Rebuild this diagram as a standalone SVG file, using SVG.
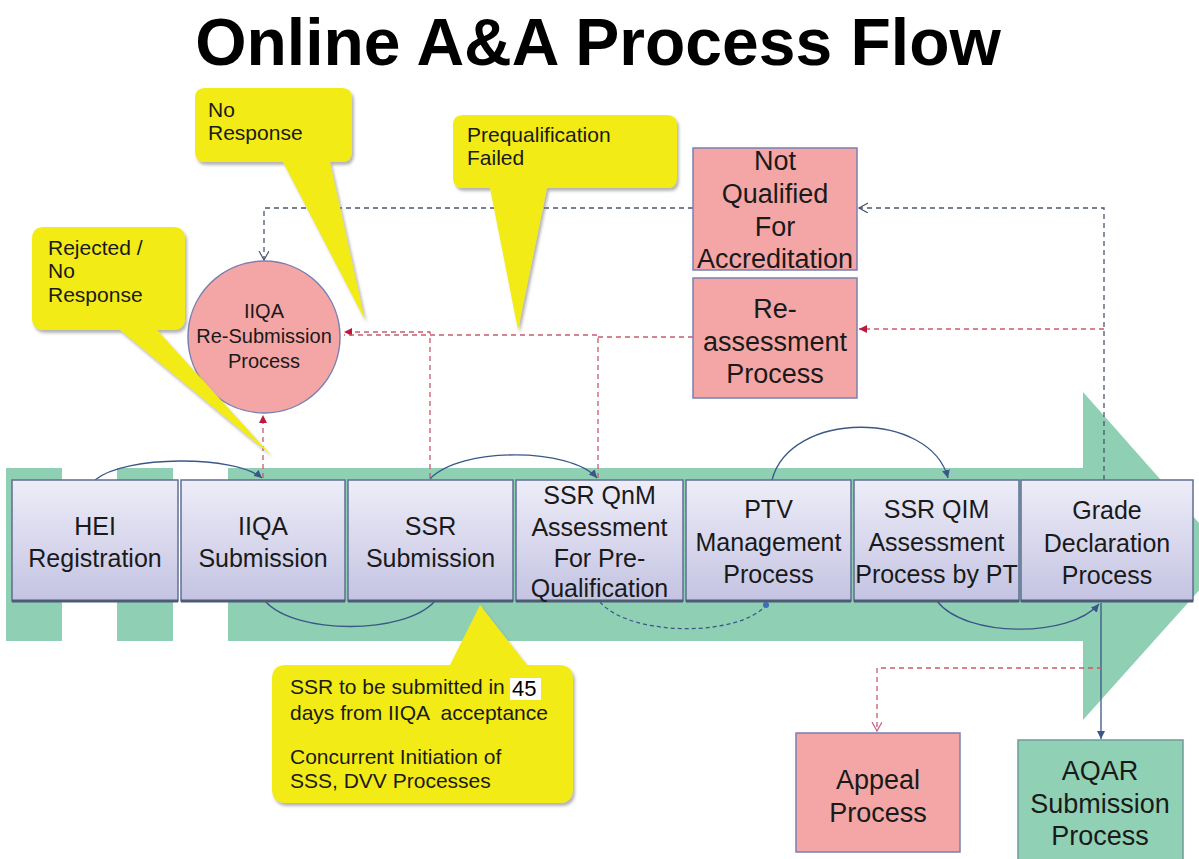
<svg xmlns="http://www.w3.org/2000/svg" width="1199" height="859" viewBox="0 0 1199 859">
<defs>
<linearGradient id="gBox" x1="0" y1="0" x2="0" y2="1"><stop offset="0" stop-color="#eeedf8"/><stop offset="1" stop-color="#c4c3e2"/></linearGradient>
<marker id="aBlue" markerWidth="10" markerHeight="10" refX="8" refY="4" orient="auto" markerUnits="userSpaceOnUse"><path d="M0,0 L8,4 L0,8 Z" fill="#3b5788"/></marker>
<marker id="aRed" markerWidth="10" markerHeight="10" refX="8" refY="4" orient="auto" markerUnits="userSpaceOnUse"><path d="M0,0 L8,4 L0,8 Z" fill="#c0183c"/></marker>
<marker id="aOpen" markerWidth="12" markerHeight="12" refX="9" refY="5" orient="auto" markerUnits="userSpaceOnUse"><path d="M0,0 L9,5 L0,10" fill="none" stroke="#4a5670" stroke-width="1.2"/></marker>
<marker id="aOpenPink" markerWidth="12" markerHeight="12" refX="9" refY="5" orient="auto" markerUnits="userSpaceOnUse"><path d="M0,0 L9,5 L0,10" fill="none" stroke="#c06080" stroke-width="1.2"/></marker>
<marker id="dot" markerWidth="8" markerHeight="8" refX="4" refY="4" markerUnits="userSpaceOnUse"><circle cx="4" cy="4" r="3" fill="#3b70b8"/></marker>
<filter id="sh" x="-10%" y="-10%" width="130%" height="130%"><feDropShadow dx="2" dy="3" stdDeviation="1.5" flood-color="#777" flood-opacity="0.55"/></filter>
</defs>
<style>
.t{font-family:"Liberation Sans",Arial,sans-serif;fill:#1a1a1a;text-anchor:middle;font-size:25px}
.c{font-family:"Liberation Sans",Arial,sans-serif;fill:#1a1a1a;font-size:21px}
.pb{fill:url(#gBox);stroke:#5f6f92;stroke-width:1.5}
.pbs{stroke:#4d5b74;stroke-width:3}
.pk{fill:#f4a6a6;stroke:#7b7fb0;stroke-width:1.5}
.gr{fill:#90d1b6;stroke:#6f9a9a;stroke-width:1.5}
.band{fill:#8fcfb4}
.call{fill:#f3eb17;filter:url(#sh)}
.arc{fill:none;stroke:#3b5788;stroke-width:1.3}
.dg{fill:none;stroke:#4a5670;stroke-width:1.3;stroke-dasharray:5 4}
.dr{fill:none;stroke:#c85a6e;stroke-width:1.3;stroke-dasharray:5 4}
</style>
<rect width="1199" height="859" fill="#ffffff"/>
<text x="598" y="65" font-family="'Liberation Sans',Arial,sans-serif" font-weight="bold" font-size="66" text-anchor="middle" fill="#000">Online A&amp;A Process Flow</text>

<g id="band">
<rect class="band" x="6" y="468" width="56" height="173"/>
<rect class="band" x="117" y="468" width="56" height="173"/>
<path class="band" d="M228,468 H1083 V392 L1229,557 L1083,720 V641 H228 Z"/>
</g>

<g id="connectors">
<path class="arc" d="M95,480 C125,455 235,455 262,478" marker-end="url(#aBlue)"/>
<path class="arc" d="M430,479 C460,447 570,447 597,478" marker-end="url(#aBlue)"/>
<path class="arc" d="M772,480 C790,410 930,410 948,478" marker-end="url(#aBlue)"/>
<path class="arc" d="M265,601 C295,635 405,635 435,601"/>
<path class="arc" d="M600,602 C630,637 740,637 766,605" stroke-dasharray="4 3" marker-end="url(#dot)"/>
<path class="arc" d="M937,601 C965,638 1070,638 1099,604" marker-end="url(#aBlue)"/>
<path class="arc" d="M1101,603 V739" marker-end="url(#aBlue)"/>
<path class="dg" d="M1104,480 V208 H859" marker-end="url(#aOpen)"/>
<path class="dr" d="M1104,329 H859" marker-end="url(#aRed)"/>
<path class="dg" d="M693,208 H264 V260" marker-end="url(#aOpen)"/>
<path class="dr" d="M263,478 V415" marker-end="url(#aRed)"/>
<path class="dr" d="M430,478 V332 H344" marker-end="url(#aRed)"/>
<path class="dr" d="M598,478 V335 H344"/>
<path class="dr" d="M693,337 H598" stroke="#a07080"/>
<path class="dr" d="M1102,668 H877 V731" marker-end="url(#aOpenPink)"/>
</g>

<g id="n-hei"><rect class="pb" x="12" y="480" width="166" height="121"/><line class="pbs" x1="12" y1="601" x2="178" y2="601"/><text class="t"><tspan x="95" y="535">HEI</tspan><tspan x="95" y="567">Registration</tspan></text></g>
<g id="n-iiqa"><rect class="pb" x="181" y="480" width="164" height="121"/><line class="pbs" x1="181" y1="601" x2="345" y2="601"/><text class="t"><tspan x="263" y="535">IIQA</tspan><tspan x="263" y="567">Submission</tspan></text></g>
<g id="n-ssr"><rect class="pb" x="348" y="480" width="165" height="121"/><line class="pbs" x1="348" y1="601" x2="513" y2="601"/><text class="t"><tspan x="430.5" y="535">SSR</tspan><tspan x="430.5" y="567">Submission</tspan></text></g>
<g id="n-qnm"><rect class="pb" x="516" y="480" width="167" height="121"/><line class="pbs" x1="516" y1="601" x2="683" y2="601"/><text class="t"><tspan x="599.5" y="504">SSR QnM</tspan><tspan x="599.5" y="536">Assessment</tspan><tspan x="599.5" y="567">For Pre-</tspan><tspan x="599.5" y="597">Qualification</tspan></text></g>
<g id="n-ptv"><rect class="pb" x="686" y="480" width="165" height="121"/><line class="pbs" x1="686" y1="601" x2="851" y2="601"/><text class="t"><tspan x="768.5" y="518">PTV</tspan><tspan x="768.5" y="551">Management</tspan><tspan x="768.5" y="583">Process</tspan></text></g>
<g id="n-qim"><rect class="pb" x="854" y="480" width="165" height="121"/><line class="pbs" x1="854" y1="601" x2="1019" y2="601"/><text class="t"><tspan x="936.5" y="518">SSR QIM</tspan><tspan x="936.5" y="551">Assessment</tspan><tspan x="936.5" y="583">Process by PT</tspan></text></g>
<g id="n-grade"><rect class="pb" x="1021" y="480" width="172" height="121"/><line class="pbs" x1="1021" y1="601" x2="1193" y2="601"/><text class="t"><tspan x="1107" y="519">Grade</tspan><tspan x="1107" y="552">Declaration</tspan><tspan x="1107" y="584">Process</tspan></text></g>

<g id="n-resub"><circle class="pk" cx="264" cy="337" r="76"/><text class="t" style="font-size:20px"><tspan x="264" y="318">IIQA</tspan><tspan x="264" y="343">Re-Submission</tspan><tspan x="264" y="368">Process</tspan></text></g>
<g id="n-notq"><rect class="pk" x="693" y="148" width="164" height="122"/><text class="t" style="font-size:27px"><tspan x="775" y="170">Not</tspan><tspan x="775" y="203">Qualified</tspan><tspan x="775" y="236">For</tspan><tspan x="775" y="268">Accreditation</tspan></text></g>
<g id="n-reass"><rect class="pk" x="693" y="278" width="164" height="120"/><text class="t" style="font-size:27px"><tspan x="775" y="318">Re-</tspan><tspan x="775" y="351">assessment</tspan><tspan x="775" y="383">Process</tspan></text></g>
<g id="n-appeal"><rect class="pk" x="796" y="733" width="164" height="119"/><text class="t" style="font-size:27px"><tspan x="878" y="789">Appeal</tspan><tspan x="878" y="822">Process</tspan></text></g>
<g id="n-aqar"><rect class="gr" x="1018" y="740" width="165" height="125"/><text class="t" style="font-size:27px"><tspan x="1100" y="780">AQAR</tspan><tspan x="1100" y="813">Submission</tspan><tspan x="1100" y="845">Process</tspan></text></g>

<g id="call-noresp"><path class="call" d="M205,88 H342 Q352,88 352,98 V152 Q352,162 342,162 H330 L365,320 L283,162 H205 Q195,162 195,152 V98 Q195,88 205,88 Z"/><text class="c"><tspan x="208" y="117">No</tspan><tspan x="208" y="140">Response</tspan></text></g>
<g id="call-rejected"><path class="call" d="M44,227 H173 Q185,227 185,239 V318 Q185,330 173,330 H157 L271,455 L120,330 H44 Q32,330 32,318 V239 Q32,227 44,227 Z"/><text class="c"><tspan x="48" y="255">Rejected /</tspan><tspan x="48" y="278">No</tspan><tspan x="48" y="302">Response</tspan></text></g>
<g id="call-prequal"><path class="call" d="M463,115 H667 Q677,115 677,125 V178 Q677,188 667,188 H547 L518,330 L490,188 H463 Q453,188 453,178 V125 Q453,115 463,115 Z"/><text class="c"><tspan x="467" y="142">Prequalification</tspan><tspan x="467" y="165">Failed</tspan></text></g>
<g id="call-ssr"><path class="call" d="M286,665 H450 L480,605 L527,665 H559 Q573,665 573,679 V789 Q573,803 559,803 H286 Q272,803 272,789 V679 Q272,665 286,665 Z"/><rect x="510" y="678" width="31" height="22" fill="#ffffff"/><text class="c" xml:space="preserve"><tspan x="290" y="694">SSR to be submitted in</tspan><tspan x="290" y="720">days from IIQA  acceptance</tspan><tspan x="290" y="764">Concurrent Initiation of</tspan><tspan x="290" y="788">SSS, DVV Processes</tspan></text><text x="512" y="696" font-family="'Liberation Sans',Arial,sans-serif" font-size="22" fill="#000">45</text></g>
</svg>
